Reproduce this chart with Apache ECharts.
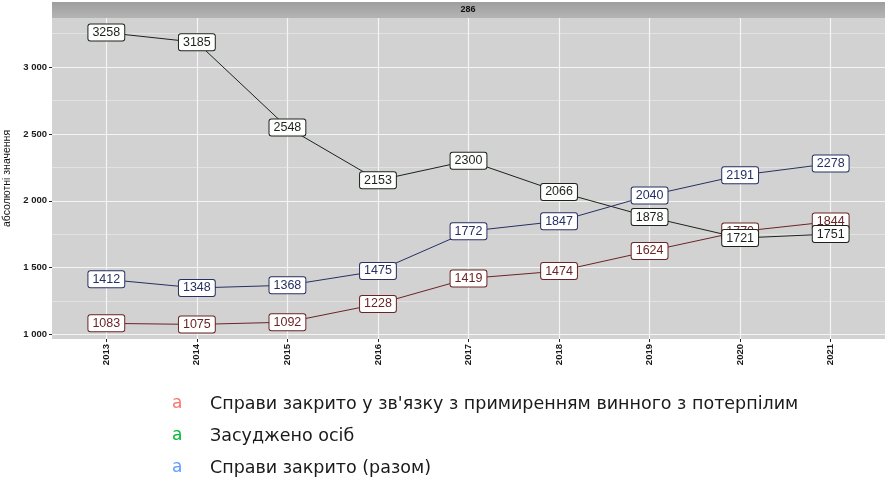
<!DOCTYPE html>
<html>
<head>
<meta charset="utf-8">
<script src="https://cdn.jsdelivr.net/npm/echarts@6/dist/echarts.min.js"></script>
<style>html,body{margin:0;padding:0;background:#fff}#c{width:895px;height:488px}</style>
</head>
<body>
<div id="c"></div>
<script>
const years = [2013, 2014, 2015, 2016, 2017, 2018, 2019, 2020, 2021];
const seriesNames = [
  "Справи закрито у зв'язку з примиренням винного з потерпілим",
  "Засуджено осіб",
  "Справи закрито (разом)"
];
const reconciled = [1083, 1075, 1092, 1228, 1419, 1474, 1624, 1770, 1844];
const convicted = [3258, 3185, 2548, 2153, 2300, 2066, 1878, 1721, 1751];
const closedTotal = [1412, 1348, 1368, 1475, 1772, 1847, 2040, 2191, 2278];
const yTicks = [1000, 1500, 2000, 2500, 3000];
const yMinorTicks = [1250, 1750, 2250, 2750, 3250];
const stripTitle = '286';
const yAxisTitle = 'абсолютні значення';

const lineColors = ['#6b2424', '#1a241a', '#263062'];
const keyColors = ['#F8766D', '#00BA38', '#619CFF'];
const values = [reconciled, convicted, closedTotal];

const chart = echarts.init(document.getElementById('c'), null, {renderer: 'canvas'});

const series = values.map((vals, i) => ({
  name: seriesNames[i],
  type: 'line',
  data: years.map((y, j) => [y, vals[j]]),
  symbol: 'circle',
  symbolSize: 1,
  showSymbol: true,
  lineStyle: {color: lineColors[i], width: 1},
  itemStyle: {color: lineColors[i]},
  animation: false,
  z: 3 + i,
  label: {
    show: true,
    position: 'inside',
    formatter: p => String(p.value[1]),
    fontFamily: 'Liberation Sans, Arial, sans-serif',
    fontSize: 12.5,
    color: lineColors[i],
    backgroundColor: '#ffffff',
    borderColor: lineColors[i],
    borderWidth: 1,
    borderRadius: 2,
    padding: [2, 4, 1, 4]
  },
  emphasis: {disabled: true},
  markLine: i === 0 ? {
    silent: true,
    symbol: 'none',
    label: {show: false},
    lineStyle: {color: '#ececec', width: 0.6, type: 'solid'},
    data: yMinorTicks.map(v => ({yAxis: v})),
    animation: false,
    z: 1
  } : undefined
}));

const fmtThousands = v => {
  const s = String(Math.round(v));
  return s.replace(/\B(?=(\d{3})+(?!\d))/g, ' ');
};

chart.setOption({
  animation: false,
  backgroundColor: '#ffffff',
  grid: {
    left: 52, right: 10, top: 18, bottom: 149,
    outerBoundsMode: 'none',
    containLabel: false,
    show: true, backgroundColor: '#d2d2d2', borderWidth: 0
  },
  xAxis: {
    type: 'value',
    min: 2012.4, max: 2021.6,
    axisLine: {show: false},
    axisTick: {show: true, length: 3, lineStyle: {color: '#222'}, customValues: years},
    axisLabel: {
      rotate: 90, fontSize: 9.5, fontWeight: 'bold', color: '#1a1a1a', margin: 5,
      fontFamily: 'Liberation Sans, Arial, sans-serif',
      customValues: years,
      formatter: v => String(Math.round(v))
    },
    splitLine: {show: true, lineStyle: {color: '#f5f5f5', width: 1.2}}
  },
  yAxis: {
    type: 'value',
    min: 966, max: 3367,
    name: yAxisTitle,
    nameLocation: 'middle',
    nameRotate: 90,
    nameGap: 37,
    nameTextStyle: {fontSize: 10.5, color: '#111', fontFamily: 'Liberation Sans, Arial, sans-serif'},
    axisLine: {show: false},
    axisTick: {show: true, length: 3, lineStyle: {color: '#222'}, customValues: yTicks},
    axisLabel: {
      fontSize: 9.5, fontWeight: 'bold', color: '#1a1a1a', margin: 5,
      fontFamily: 'Liberation Sans, Arial, sans-serif',
      customValues: yTicks,
      formatter: v => fmtThousands(v)
    },
    splitLine: {show: true, lineStyle: {color: '#f5f5f5', width: 1.2}}
  },
  legend: {
    orient: 'vertical',
    left: 161, top: 390,
    itemGap: 14,
    icon: 'rect', itemWidth: 1, itemHeight: 1,
    itemStyle: {opacity: 0}, lineStyle: {opacity: 0},
    selectedMode: false,
    data: seriesNames,
    formatter: name => {
      const i = seriesNames.indexOf(name);
      return '{k' + i + '|a}{t|' + name + '}';
    },
    textStyle: {
      fontFamily: 'DejaVu Sans, sans-serif',
      rich: {
        k0: {color: keyColors[0], fontSize: 17, width: 38, lineHeight: 20, fontFamily: 'DejaVu Sans, sans-serif'},
        k1: {color: keyColors[1], fontSize: 17, width: 38, lineHeight: 20, fontFamily: 'DejaVu Sans, sans-serif'},
        k2: {color: keyColors[2], fontSize: 17, width: 38, lineHeight: 20, fontFamily: 'DejaVu Sans, sans-serif'},
        t: {color: '#1a1a1a', fontSize: 17.5, lineHeight: 20, fontFamily: 'DejaVu Sans, sans-serif'}
      }
    }
  },
  graphic: [
    {
      type: 'rect', left: 52, top: 2, z: 0,
      shape: {width: 833, height: 16},
      style: {fill: new echarts.graphic.LinearGradient(0, 0, 0, 1, [
        {offset: 0, color: '#9e9e9e'}, {offset: 1, color: '#b4b4b4'}
      ])}
    },
    {
      type: 'text', x: 468, y: 10, z: 1,
      style: {text: stripTitle, fontSize: 9, fontWeight: 'bold', fill: '#111',
        fontFamily: 'Liberation Sans, Arial, sans-serif', align: 'center', verticalAlign: 'middle'}
    }
  ],
  series: series
});
</script>
</body>
</html>
